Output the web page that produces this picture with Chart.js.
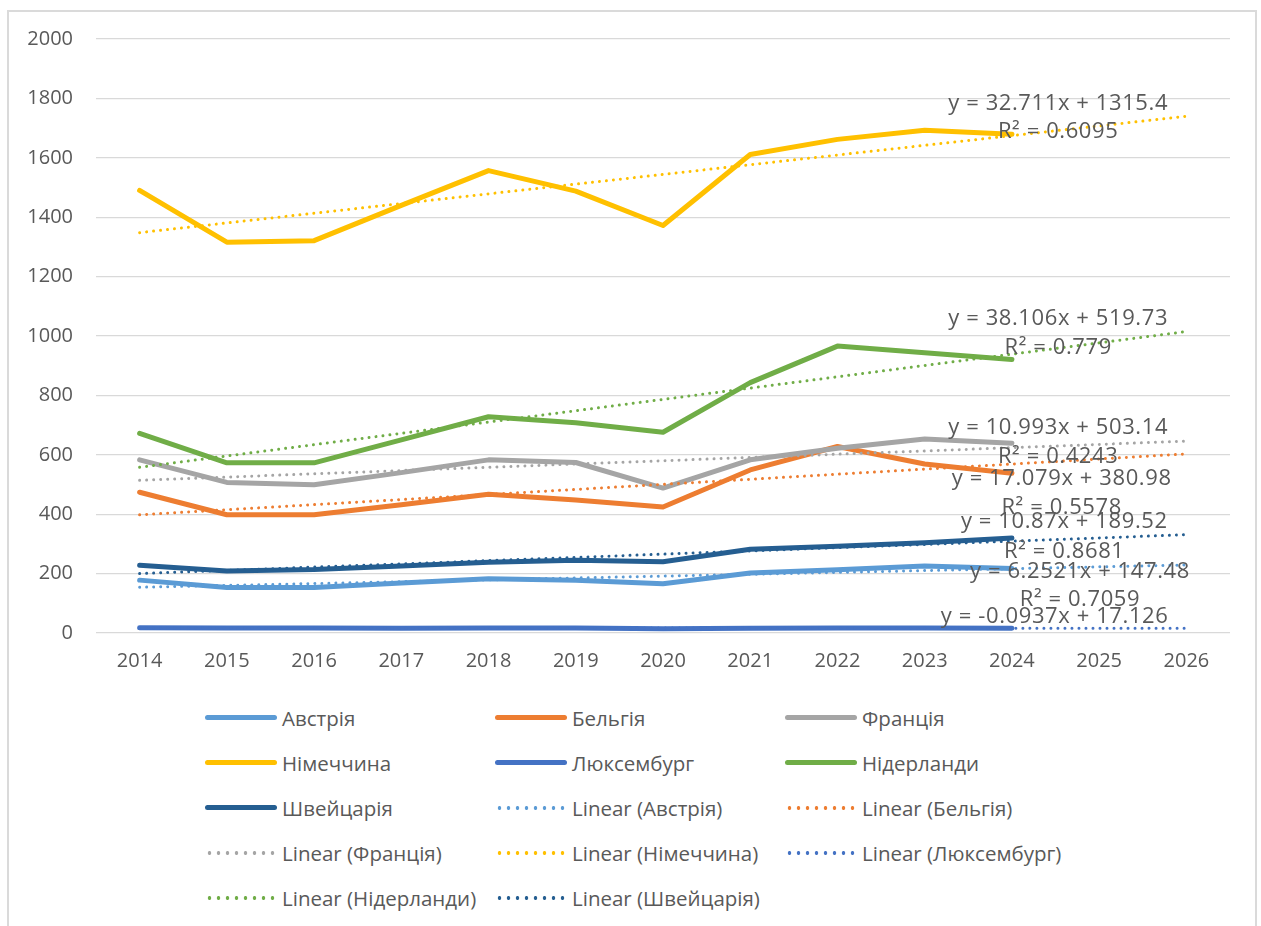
<!DOCTYPE html>
<html>
<head>
<meta charset="utf-8">
<script src="https://cdn.jsdelivr.net/npm/chart.js@4/dist/chart.umd.min.js"></script>
<style>
  html,body{margin:0;padding:0;background:#fff;}
  body{width:1261px;height:926px;position:relative;overflow:hidden;font-family:"Open Sans",sans-serif;}
  #frame{position:absolute;left:7px;top:10px;width:1246px;height:940px;border:2px solid #dadada;}
  #wrap{position:absolute;left:0;top:0;width:1261px;height:690px;}
  #legend{position:absolute;left:205px;top:695px;width:900px;display:grid;grid-template-columns:290px 290px 290px;grid-auto-rows:45px;}
  .item{display:flex;align-items:center;font-size:20.5px;color:#595959;white-space:nowrap;}
  .sw{width:72px;height:5px;margin-right:5px;flex:none;}
  .solid{border-radius:3px;}
  .dots{height:4px;background-repeat:repeat-x;background-size:9px 4px;}
</style>
</head>
<body>
<div id="frame"></div>
<div id="wrap"><canvas id="chart"></canvas></div>
<div id="legend"></div>
<script>
const years = ['2014','2015','2016','2017','2018','2019','2020','2021','2022','2023','2024','2025','2026'];
const countries = ['Австрія','Бельгія','Франція','Німеччина','Люксембург','Нідерланди','Швейцарія'];
const colors = ['#5B9BD5','#ED7D31','#A5A5A5','#FFC000','#4472C4','#70AD47','#255E91'];

const austria     = [178, 153, 153, 168, 183, 178, 166, 202, 213, 226, 217];
const belgium     = [474, 398, 398, 432, 467, 448, 424, 549, 628, 569, 538];
const france      = [583, 507, 499, 540, 583, 574, 488, 583, 622, 653, 639];
const germany     = [1490, 1316, 1321, 1440, 1557, 1488, 1372, 1611, 1662, 1693, 1679];
const luxembourg  = [18, 17, 17, 16, 17, 17, 14, 16, 17, 17, 16];
const netherlands = [672, 573, 573, 650, 728, 708, 676, 843, 966, 944, 921];
const switzerland = [228, 209, 214, 226, 238, 245, 240, 282, 292, 304, 320];
const series = [austria, belgium, france, germany, luxembourg, netherlands, switzerland];

// trend lines: value at 2014 and at 2026
const trendStart = [154, 398, 514, 1348, 17, 558, 200];
const trendEnd   = [229, 603, 646, 1740, 16, 1015, 331];

const equations = ['y = 6.2521x + 147.48','y = 17.079x + 380.98','y = 10.993x + 503.14','y = 32.711x + 1315.4','y = -0.0937x + 17.126','y = 38.106x + 519.73','y = 10.87x + 189.52'];
const rSquared  = ['R² = 0.7059','R² = 0.5578','R² = 0.4243','R² = 0.6095',null,'R² = 0.779','R² = 0.8681'];
// label anchors in axis units: [category index, y of equation, y of R²]
const labelAt = [[10.78,205,111],[10.57,519,421],[10.53,690,593],[10.53,1783,1687],[10.49,54,null],[10.53,1057,960],[10.6,374,273]];

const yTicks = {min:0, max:2000, step:200};

const datasets = [];
series.forEach((d,i)=>{
  datasets.push({label:countries[i], data:d, borderColor:colors[i], backgroundColor:colors[i],
    borderWidth:5, pointRadius:0, borderCapStyle:'round', borderJoinStyle:'round', tension:0, order:20-i});
});
series.forEach((d,i)=>{
  const t = years.map(()=>null);
  t[0] = trendStart[i]; t[years.length-1] = trendEnd[i];
  datasets.push({label:'Linear ('+countries[i]+')', data:t, spanGaps:true, borderColor:colors[i], backgroundColor:colors[i],
    borderWidth:3, borderDash:[0.01,7], borderCapStyle:'round', pointRadius:0, order:10-i, trend:true});
});

const eqLabels = {
  id:'eqLabels',
  afterDatasetsDraw(chart){
    const ctx = chart.ctx, xs = chart.scales.x, ys = chart.scales.y;
    ctx.save();
    ctx.fillStyle = '#595959';
    ctx.font = '22px "Open Sans"';
    ctx.letterSpacing = '0.6px';
    ctx.textAlign = 'center';
    ctx.textBaseline = 'middle';
    labelAt.forEach((a,i)=>{
      const x = xs.getPixelForValue(a[0]);
      ctx.fillText(equations[i], x, ys.getPixelForValue(a[1]));
      if(rSquared[i]) ctx.fillText(rSquared[i], x, ys.getPixelForValue(a[2]));
    });
    ctx.restore();
  }
};

Chart.defaults.font.family = '"Open Sans", sans-serif';
Chart.defaults.color = '#595959';

new Chart(document.getElementById('chart'), {
  type:'line',
  data:{labels:years, datasets:datasets},
  options:{
    responsive:true, maintainAspectRatio:false, animation:false,
    layout:{padding:{top:39, right:31, left:0, bottom:0}},
    plugins:{legend:{display:false}, tooltip:{enabled:false}},
    scales:{
      x:{offset:true, grid:{display:false, drawTicks:false}, border:{display:false},
         ticks:{font:{size:20}, padding:16, maxRotation:0},
         afterFit(s){ s.height = 57; }},
      y:{min:yTicks.min, max:yTicks.max, grid:{color:'#d9d9d9', lineWidth:1.2, drawTicks:false}, border:{display:false},
         ticks:{stepSize:yTicks.step, font:{size:20}, padding:23, callback:v=>String(v)},
         afterFit(s){ s.width = 96; }}
    }
  },
  plugins:[eqLabels]
});

// legend in three columns, as in the picture
const lg = document.getElementById('legend');
datasets.forEach(ds=>{
  const it = document.createElement('div'); it.className='item';
  const sw = document.createElement('span');
  if(ds.trend){
    sw.className='sw dots';
    sw.style.backgroundImage = 'radial-gradient(circle at 4.5px 2px, '+ds.borderColor+' 1.6px, transparent 2.1px)';
  } else {
    sw.className='sw solid';
    sw.style.background = ds.borderColor;
  }
  it.appendChild(sw);
  it.appendChild(document.createTextNode(ds.label));
  lg.appendChild(it);
});
</script>
</body>
</html>
